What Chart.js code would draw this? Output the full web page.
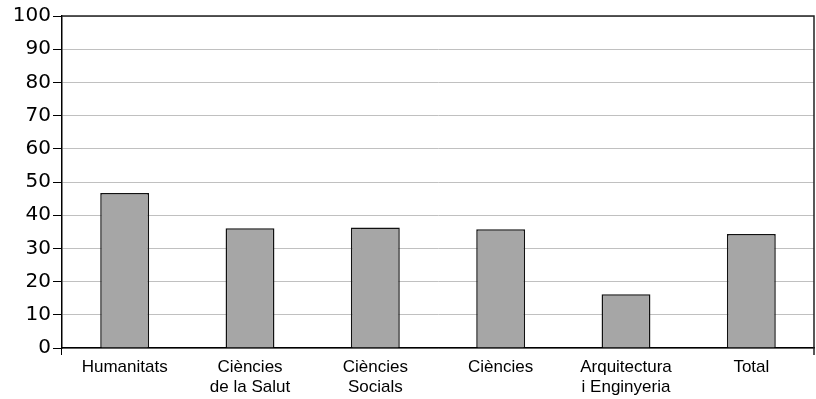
<!DOCTYPE html>
<html>
<head>
<meta charset="utf-8">
<script src="https://cdn.jsdelivr.net/npm/chart.js@4"></script>
<style>
    html, body { margin: 0; padding: 0; background: #fff; }
    #wrap { width: 816px; height: 399px; }
</style>
</head>
<body>
<div id="wrap"><canvas id="chart" width="816" height="399"></canvas></div>
<script>
// Categories (multi-line labels as in the original)
const categories = [
    "Humanitats",
    ["Ciències", "de la Salut"],
    ["Ciències", "Socials"],
    "Ciències",
    ["Arquitectura", "i Enginyeria"],
    "Total"
];
const values = [46.7, 36.1, 36.3, 35.8, 16.2, 34.3];
const yTicks = [0, 10, 20, 30, 40, 50, 60, 70, 80, 90, 100];

// draws the top and right edges of the plot frame
const frame = {
    id: "frame",
    afterDraw(chart) {
        const a = chart.chartArea;
        const ctx = chart.ctx;
        ctx.save();
        ctx.strokeStyle = "#222";
        ctx.lineWidth = 1.5;
        ctx.beginPath();
        ctx.moveTo(a.left, a.top);
        ctx.lineTo(a.right, a.top);
        ctx.lineTo(a.right, a.bottom + 7);
        ctx.stroke();
        ctx.restore();
    }
};

new Chart(document.getElementById("chart"), {
    type: "bar",
    data: {
        labels: categories,
        datasets: [{
            data: values,
            backgroundColor: "#a6a6a6",
            borderColor: "#111",
            borderWidth: 1.5,
            barPercentage: 0.39,
            categoryPercentage: 1
        }]
    },
    options: {
        responsive: false,
        animation: false,
        layout: { padding: { top: 16, right: 2, left: 0, bottom: 0 } },
        plugins: { legend: { display: false }, tooltip: { enabled: false } },
        scales: {
            x: {
                offset: true,
                grid: {
                    offset: true,
                    drawOnChartArea: false,
                    tickLength: 7,
                    color: ctx => (ctx.index === 0 ? "#000" : "rgba(0,0,0,0)")
                },
                border: { color: "#000", width: 1.5 },
                ticks: {
                    color: "#000",
                    padding: 2,
                    maxRotation: 0,
                    autoSkip: false,
                    font: { family: "Liberation Sans", size: 17 }
                },
                afterFit: scale => { scale.height = 51; }
            },
            y: {
                min: 0,
                max: 100,
                afterBuildTicks: scale => { scale.ticks = yTicks.map(v => ({ value: v })); },
                grid: {
                    color: "#c0c0c0",
                    tickColor: "#000",
                    tickLength: 9
                },
                border: { color: "#000", width: 1.5 },
                ticks: {
                    color: "#000",
                    padding: 2,
                    font: { family: "DejaVu Sans", size: 20 }
                },
                afterFit: scale => { scale.width = 62; }
            }
        }
    },
    plugins: [frame]
});
</script>
</body>
</html>
